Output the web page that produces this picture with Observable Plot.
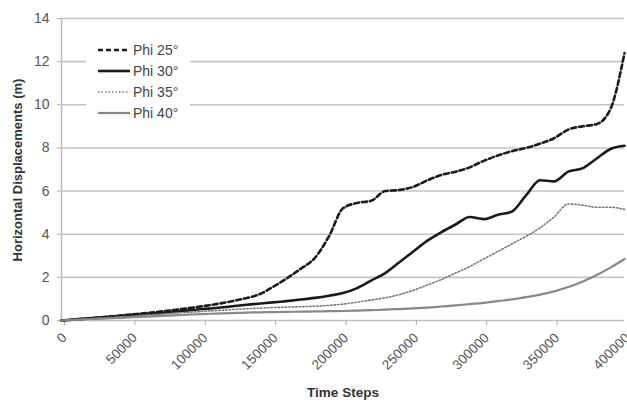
<!DOCTYPE html>
<html>
<head>
<meta charset="utf-8">
<script src="https://cdn.jsdelivr.net/npm/d3@7"></script>
<script src="https://cdn.jsdelivr.net/npm/@observablehq/plot@0.6"></script>
<style>
  body { margin: 0; background: #fff; }
  #wrap { position: relative; width: 627px; height: 403px; font-family: "Liberation Sans", Arial, sans-serif; }
  #legend { position: absolute; left: 86px; top: 37px; background: #fff; padding: 2px 12px 2px 12px; }
  .li { display: flex; align-items: center; height: 21px; font-size: 14px; color: #444; }
  .li svg { margin-right: 3px; }
</style>
</head>
<body>
<div id="wrap"></div>
<script>
const steps = [0,10000,20000,30000,40000,50000,60000,70000,80000,90000,100000,110000,120000,130000,140000,150000,160000,170000,180000,190000,200000,210000,220000,230000,240000,250000,260000,270000,280000,290000,300000,310000,320000,330000,340000,350000,360000,370000,380000,390000,400000];
const phi25 = [0,0.05,0.1,0.16,0.22,0.28,0.34,0.41,0.49,0.57,0.66,0.76,0.88,1.02,1.2,1.55,1.95,2.4,2.9,3.9,5.2,5.45,5.55,6.0,6.05,6.2,6.5,6.75,6.9,7.1,7.4,7.65,7.85,8.0,8.2,8.45,8.85,9.0,9.1,9.8,12.4];
const phi30 = [0,0.05,0.1,0.15,0.2,0.25,0.3,0.35,0.41,0.47,0.53,0.58,0.65,0.72,0.78,0.84,0.9,0.97,1.05,1.15,1.27,1.5,1.85,2.2,2.7,3.2,3.7,4.1,4.45,4.8,4.7,4.9,5.05,5.8,6.5,6.45,6.9,7.05,7.5,7.95,8.1];
const phi35 = [0,0.04,0.08,0.12,0.16,0.2,0.25,0.29,0.34,0.38,0.42,0.46,0.5,0.54,0.57,0.6,0.62,0.64,0.66,0.7,0.76,0.85,0.95,1.05,1.2,1.4,1.65,1.9,2.2,2.5,2.85,3.2,3.55,3.9,4.3,4.8,5.4,5.35,5.25,5.25,5.15];
const phi40 = [0,0.03,0.06,0.09,0.12,0.15,0.18,0.21,0.24,0.27,0.3,0.32,0.34,0.36,0.38,0.39,0.4,0.41,0.42,0.43,0.44,0.46,0.48,0.5,0.53,0.56,0.6,0.65,0.7,0.76,0.82,0.9,0.98,1.08,1.2,1.35,1.55,1.8,2.1,2.45,2.85];
const seriesNames = ["Phi 25°", "Phi 30°", "Phi 35°", "Phi 40°"];
const xTicks = [0,50000,100000,150000,200000,250000,300000,350000,400000];
const yTicks = [0,2,4,6,8,10,12,14];

const styles = [
  {stroke: "#1a1a1a", strokeWidth: 2.6, dash: "5,3"},
  {stroke: "#1a1a1a", strokeWidth: 2.6, dash: null},
  {stroke: "#7a7a7a", strokeWidth: 1.6, dash: "1.5,2"},
  {stroke: "#888888", strokeWidth: 2.2, dash: null}
];
const allSeries = [phi25, phi30, phi35, phi40];

const lineMarks = allSeries.map((vals, i) => Plot.line(
  steps.map((s, j) => ({x: s, y: vals[j]})),
  {x: "x", y: "y", stroke: styles[i].stroke, strokeWidth: styles[i].strokeWidth,
   strokeDasharray: styles[i].dash || undefined, curve: "monotone-x"}
));

const plot = Plot.plot({
  width: 627,
  height: 403,
  marginLeft: 61,
  marginRight: 3,
  marginTop: 18,
  marginBottom: 83,
  style: {fontFamily: "'Liberation Sans', Arial, sans-serif", fontSize: "13px", color: "#555", background: "#fff"},
  x: {domain: [0, 400000], ticks: xTicks, tickFormat: d => String(d), tickRotate: -45, label: null},
  y: {domain: [0, 14], ticks: yTicks, label: null},
  marks: [
    Plot.ruleY(yTicks, {stroke: "#c4c4c4", strokeWidth: 1.6}),
    Plot.ruleX([0], {stroke: "#bcbcbc", strokeWidth: 1.5}),
    Plot.axisY({ticks: yTicks, tickSize: 4, stroke: "#aaa", tickPadding: 8, fontSize: 14, fill: "#555"}),
    Plot.axisX({ticks: xTicks, tickSize: 5, stroke: "#aaa", tickRotate: -45, tickPadding: 10, dx: 3, fontSize: 13.5, fill: "#555", tickFormat: d => String(d)}),
    ...lineMarks
  ]
});

const wrap = document.getElementById("wrap");
wrap.appendChild(plot);

// axis titles
const ns = "http://www.w3.org/2000/svg";
const yt = document.createElementNS(ns, "text");
yt.setAttribute("transform", "translate(22,170) rotate(-90)");
yt.setAttribute("text-anchor", "middle");
yt.setAttribute("font-weight", "bold");
yt.setAttribute("font-size", "13");
yt.setAttribute("fill", "#333");
yt.textContent = "Horizontal Displacements (m)";
plot.appendChild(yt);
const xt = document.createElementNS(ns, "text");
xt.setAttribute("x", 343);
xt.setAttribute("y", 397);
xt.setAttribute("text-anchor", "middle");
xt.setAttribute("font-weight", "bold");
xt.setAttribute("font-size", "13.5");
xt.setAttribute("fill", "#333");
xt.textContent = "Time Steps";
plot.appendChild(xt);

// legend
const leg = document.createElement("div");
leg.id = "legend";
seriesNames.forEach((name, i) => {
  const row = document.createElement("div");
  row.className = "li";
  const st = styles[i];
  row.innerHTML = `<svg width="32" height="8"><line x1="0" y1="4" x2="32" y2="4" stroke="${st.stroke}" stroke-width="${st.strokeWidth}" ${st.dash ? `stroke-dasharray="${st.dash}"` : ""}/></svg><span>${name}</span>`;
  leg.appendChild(row);
});
wrap.appendChild(leg);
</script>
</body>
</html>
